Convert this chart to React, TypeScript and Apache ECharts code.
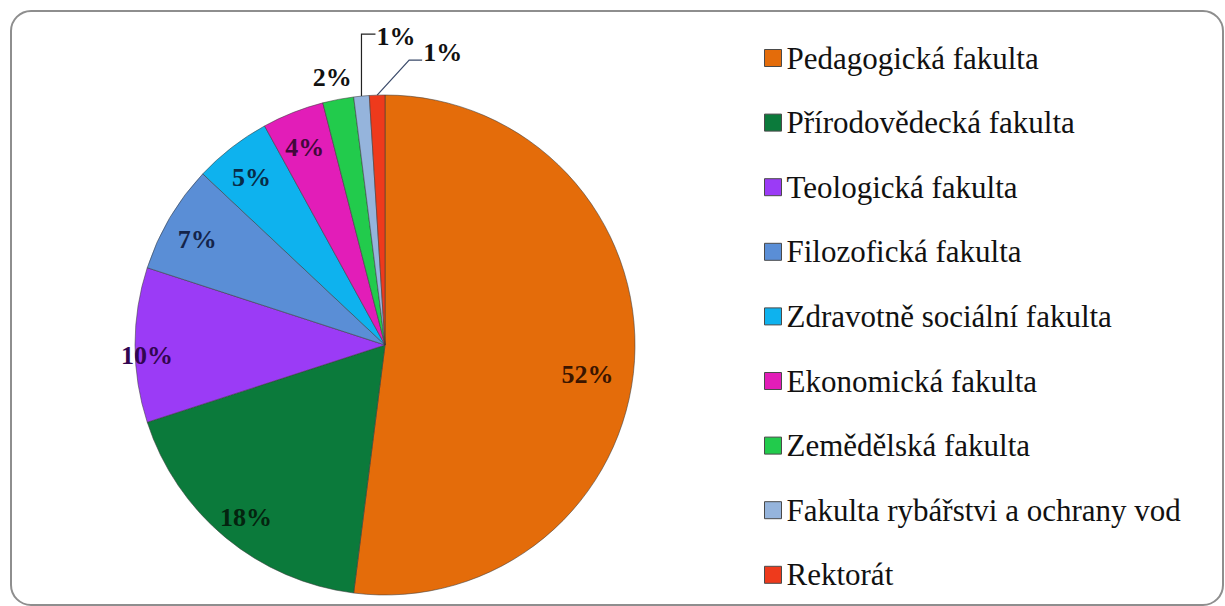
import React, { useEffect, useRef } from "react";
import * as echarts from "echarts";

const categories = [
  "Pedagogická fakulta",
  "Přírodovědecká fakulta",
  "Teologická fakulta",
  "Filozofická fakulta",
  "Zdravotně sociální fakulta",
  "Ekonomická fakulta",
  "Zemědělská fakulta",
  "Fakulta rybářstvi a ochrany vod",
  "Rektorát",
];
const values = [52, 18, 10, 7, 5, 4, 2, 1, 1];
const colors = [
  "#E46C0A",
  "#0B7A3B",
  "#9B3BF6",
  "#5A8ED6",
  "#0EB2EE",
  "#E21DB8",
  "#22CB4C",
  "#95B4DC",
  "#EE3A1C",
];
const labelColors = [
  "#3a1500",
  "#04240f",
  "#320650",
  "#14244a",
  "#082c48",
  "#42083a",
  "#111111",
  "#111111",
  "#111111",
];
const outsideIdx = [6, 7, 8];

const SERIF = "Liberation Serif";

export default function App() {
  const ref = useRef<HTMLDivElement>(null);
  useEffect(() => {
    if (!ref.current) return;
    const chart = echarts.init(ref.current, null, { renderer: "svg" });
    const R = 250;
    const cx = 385;
    const cy = 345;
    const mainData = categories.map((name, i) => ({
      name,
      value: values[i],
      itemStyle: { color: colors[i] },
    }));
    const labelData = categories.map((name, i) => {
      const outside = outsideIdx.includes(i);
      return {
        name,
        value: values[i],
        label: {
          position: outside ? "outside" : "inside",
          color: labelColors[i],
        },
        labelLine: {
          show: outside,
          length: 20,
          length2: 10,
          lineStyle: { color: i === 8 ? "#3a4a6a" : "#222", width: 1.2, opacity: i === 6 ? 0 : 1 },
        },
      };
    });
    chart.setOption({
      animation: false,
      backgroundColor: "#ffffff",
      textStyle: { fontFamily: SERIF },
      graphic: [
        {
          type: "rect",
          shape: { x: 11, y: 11, width: 1212, height: 594, r: 20 },
          style: { fill: "none", stroke: "#8e8e8e", lineWidth: 2 },
          z: 0,
        },
      ],
      legend: {
        orient: "vertical",
        left: 759,
        top: 37.5,
        itemWidth: 17,
        itemHeight: 17,
        itemGap: 33.6,
        icon: "rect",
        itemStyle: { borderColor: "#4a4a4a", borderWidth: 1 },
        data: categories,
        textStyle: {
          fontFamily: SERIF,
          fontSize: 31,
          lineHeight: 31,
          color: "#111111",
        },
        selectedMode: false,
      },
      series: [
        {
          type: "pie",
          center: [cx, cy],
          radius: [0, R],
          startAngle: 90,
          clockwise: true,
          data: mainData,
          label: { show: false },
          labelLine: { show: false },
          itemStyle: { borderColor: "rgba(60,60,60,0.55)", borderWidth: 1 },
          emphasis: { disabled: true },
          silent: true,
        },
        {
          type: "pie",
          center: [cx, cy],
          radius: [180, R],
          startAngle: 90,
          clockwise: true,
          data: labelData,
          itemStyle: { color: "rgba(0,0,0,0)", borderWidth: 0 },
          legendHoverLink: false,
          emphasis: { disabled: true },
          silent: true,
          avoidLabelOverlap: false,
          label: {
            show: true,
            formatter: "{c}%",
            fontFamily: SERIF,
            fontWeight: "bold",
            fontSize: 26,
          },
          labelLayout: (params: any) => {
            const i = params.dataIndex;
            if (i === 0) return { dx: -15, dy: 16 };
            if (i === 2) return { dx: -20, dy: 10 };
            if (i >= 1 && i <= 5) return { dy: 5 };
            const pts = params.labelLinePoints;
            if (!pts || !outsideIdx.includes(i)) return {};
            const p0 = pts[0];
            if (i === 7) {
              const yTop = p0[1] - 62;
              return {
                x: p0[0] + 15,
                y: yTop + 2,
                align: "left",
                verticalAlign: "middle",
                labelLinePoints: [p0, [p0[0], yTop], [p0[0] + 14, yTop]],
              };
            }
            if (i === 8) {
              const yTop = p0[1] - 35;
              return {
                x: p0[0] + 46,
                y: yTop - 8,
                align: "left",
                verticalAlign: "middle",
                labelLinePoints: [p0, [p0[0] + 32, yTop], [p0[0] + 45, yTop]],
              };
            }
            return {
              x: p0[0] - 6,
              y: p0[1] - 22,
              align: "center",
              verticalAlign: "middle",
            };
          },
        },
      ],
    });
    return () => chart.dispose();
  }, []);
  return (
    <div
      ref={ref}
      style={{ position: "absolute", left: 0, top: 0, width: 1225, height: 606 }}
    />
  );
}
